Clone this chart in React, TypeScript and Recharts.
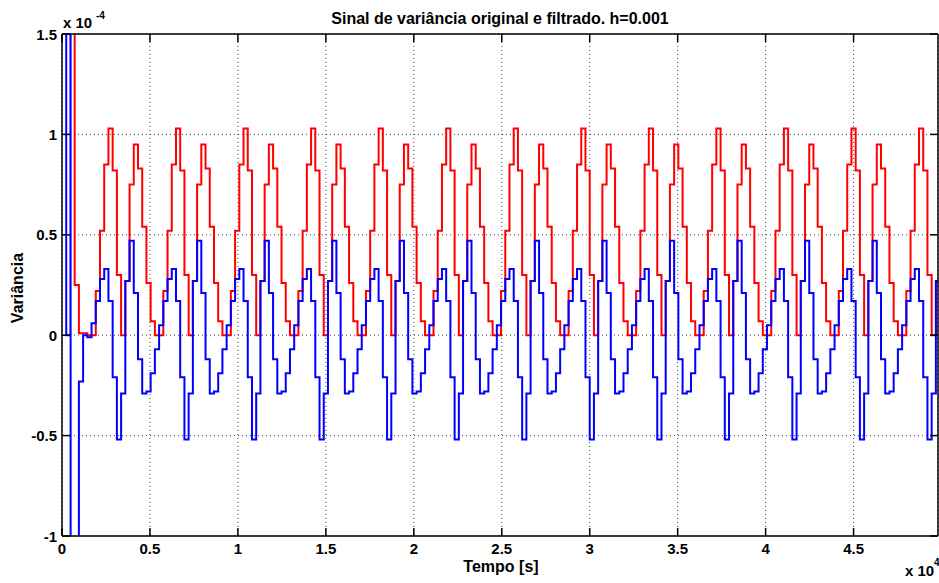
import React from "react";
import { LineChart, Line, XAxis, YAxis, CartesianGrid } from "recharts";

// values in units of 1e-4, time in seconds
const stepSeconds = 240;
const lastStep = 208;

// transient at the start (values beyond the axis are clipped)
const startTimes = [0, 240, 480, 490, 720, 960, 1200, 1440, 1680];
const startRed = [4, 4, 4, 4, 0.25, 0.01, 0.01, 0.0, 0.0];
const startBlue = [3, 0, 3, -3, -3, -0.23, 0.0, -0.01, 0.06];

// one period of the steady pattern, 16 steps, from t = 1920 s
const cycleRed = [0.22, 0.52, 0.85, 1.03, 0.82, 0.3, 0.0, 0.27, 0.75, 0.95, 0.83, 0.54, 0.26, 0.07, 0.0, 0.0];
const cycleBlue = [0.17, 0.28, 0.33, 0.17, -0.21, -0.52, -0.29, 0.27, 0.47, 0.21, -0.12, -0.29, -0.28, -0.19, -0.07, 0.05];

const xTicks = [0, 5000, 10000, 15000, 20000, 25000, 30000, 35000, 40000, 45000];
const yTicks = [-1, -0.5, 0, 0.5, 1, 1.5];

const rows: { t: number; red: number; blue: number }[] = startTimes.map((t, i) => ({
  t,
  red: startRed[i],
  blue: startBlue[i],
}));
for (let k = startTimes.length - 1; k <= lastStep; k++) {
  const j = (k - 8) % cycleRed.length;
  if (k < 8) continue;
  rows.push({ t: k * stepSeconds, red: cycleRed[j], blue: cycleBlue[j] });
}

const font = "'Liberation Sans', Arial, Helvetica, sans-serif";
const axisStyle = { stroke: "#000", strokeWidth: 1.5 };

function BottomTick(props: any) {
  const { x, y, payload } = props;
  return (
    <g>
      <line x1={x} y1={y} x2={x} y2={y - 8} stroke="#000" strokeWidth={1.5} />
      <text x={x} y={y + 18} textAnchor="middle" fontSize={15} fontWeight="bold" fontFamily={font} fill="#000">
        {String(payload.value / 10000)}
      </text>
    </g>
  );
}

function TopTick(props: any) {
  const { x, y } = props;
  return <line x1={x} y1={y} x2={x} y2={y + 8} stroke="#000" strokeWidth={1.5} />;
}

function LeftTick(props: any) {
  const { x, y, payload } = props;
  return (
    <g>
      <line x1={x} y1={y} x2={x + 8} y2={y} stroke="#000" strokeWidth={1.5} />
      <text x={x - 5} y={y + 5.5} textAnchor="end" fontSize={15} fontWeight="bold" fontFamily={font} fill="#000">
        {String(payload.value)}
      </text>
    </g>
  );
}

function RightTick(props: any) {
  const { x, y } = props;
  return <line x1={x} y1={y} x2={x - 8} y2={y} stroke="#000" strokeWidth={1.5} />;
}

export default function App() {
  return (
    <div style={{ position: "absolute", left: 0, top: 0, width: 939, height: 583, background: "#fff" }}>
      <LineChart width={939} height={583} data={rows} margin={{ top: 4, right: 0, bottom: 0, left: 0 }}>
        <CartesianGrid stroke="#444" strokeDasharray="1 3" />
        <XAxis
          dataKey="t"
          type="number"
          domain={[0, 49800]}
          allowDataOverflow
          ticks={xTicks}
          interval={0}
          height={47}
          tickSize={0}
          tickMargin={0}
          axisLine={axisStyle}
          tickLine={false}
          tick={<BottomTick />}
        />
        <XAxis
          xAxisId="top"
          orientation="top"
          dataKey="t"
          type="number"
          domain={[0, 49800]}
          allowDataOverflow
          ticks={xTicks}
          interval={0}
          height={30}
          tickSize={0}
          tickMargin={0}
          axisLine={axisStyle}
          tickLine={false}
          tick={<TopTick />}
        />
        <YAxis
          type="number"
          domain={[-1, 1.5]}
          allowDataOverflow
          ticks={yTicks}
          interval={0}
          width={62}
          tickSize={0}
          tickMargin={0}
          axisLine={axisStyle}
          tickLine={false}
          tick={<LeftTick />}
        />
        <YAxis
          yAxisId="right"
          orientation="right"
          type="number"
          domain={[-1, 1.5]}
          allowDataOverflow
          ticks={yTicks}
          interval={0}
          width={1}
          tickSize={0}
          tickMargin={0}
          axisLine={axisStyle}
          tickLine={false}
          tick={<RightTick />}
        />
        <Line type="stepAfter" dataKey="red" stroke="#ff0000" strokeWidth={2} dot={false} isAnimationActive={false} />
        <Line type="stepAfter" dataKey="blue" stroke="#0000ff" strokeWidth={2} dot={false} isAnimationActive={false} />
      </LineChart>
      <svg width={939} height={583} style={{ position: "absolute", left: 0, top: 0, pointerEvents: "none" }}>
        <g fontFamily={font} fontWeight="bold" fill="#000">
          <text x={500} y={23.5} textAnchor="middle" fontSize={16}>
            Sinal de variância original e filtrado. h=0.001
          </text>
          <text x={63} y={28} fontSize={15}>x 10</text>
          <text x={96} y={19} fontSize={10}>-4</text>
          <text x={501} y={571.5} textAnchor="middle" fontSize={16}>Tempo [s]</text>
          <text x={23} y={288} textAnchor="middle" fontSize={16} transform="rotate(-90, 23, 288)">
            Variância
          </text>
          <text x={905} y={575.5} fontSize={15}>x 10</text>
          <text x={934} y={566} fontSize={10}>4</text>
        </g>
      </svg>
    </div>
  );
}
